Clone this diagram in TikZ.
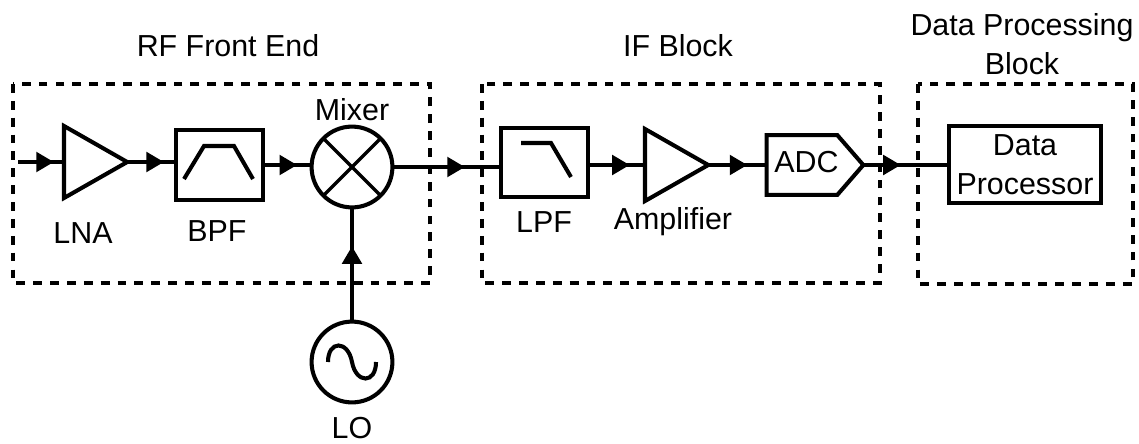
\documentclass[tikz,border=0pt]{standalone}
\usepackage{fontspec}
\setmainfont{Liberation Sans}
\usetikzlibrary{arrows.meta,shapes.geometric,shapes.symbols,decorations.markings}
\tikzset{
	wire/.style={line width=2.3pt},
	midarrow/.style={wire,postaction={decorate},decoration={markings,mark=at position #1 with {\arrow{Triangle[length=10pt,width=11pt]}}}},
	blockbox/.style={line width=1.9pt,dash pattern=on 5pt off 4.6pt},
	filterbox/.style={draw,wire,rectangle,minimum width=50pt,minimum height=39.5pt,outer sep=0pt},
	amp/.style={draw,wire,isosceles triangle,isosceles triangle apex angle=58,isosceles triangle stretches,minimum height=36pt,minimum width=41pt,inner sep=0pt,outer sep=0pt},
	roundel/.style={draw,wire,circle,minimum size=46pt,inner sep=0pt,outer sep=0pt},
	lbl/.style={font=\fontsize{17.3}{22}\selectfont,inner sep=0pt}
}
\begin{document}
\begin{tikzpicture}[x=0.02cm,y=-0.02cm]
			\useasboundingbox (0,0) rectangle (1139,443);
			% dashed blocks
			\draw[blockbox] (13,84) rectangle (430,283);
			\draw[blockbox] (482,84) rectangle (880,283);
			\draw[blockbox] (918,84) rectangle (1133,284);
			\node[lbl] (rftitle) at (228,46) {RF Front End};
			\node[lbl] (iftitle) at (678,46) {IF Block};
			\node[lbl,align=center] (dptitle) at (1022,44) {Data Processing\\Block};
			% RF front end
			\coordinate (rfin) at (18,162);
			\node[amp,anchor=lower side] (lna) at (64,162) {};
			\node[filterbox] (bpf) at (219.5,165) {};
			\node[roundel] (mixer) at (352,167) {};
			\node[roundel] (lo) at (352,362) {};
			\foreach \Ang in {45,135}{
				\draw[line width=2pt] (mixer.\Ang)--(mixer.\Ang+180);}
			\draw[wire,shift={(lo)}] (-24,0) .. controls (-24,-22) and (-4,-22) .. (0,0) .. controls (4,22) and (24,22) .. (24,0);
			\draw[wire] (184,179)--(204,146)--(234,146)--(253,179);
			\node[lbl] (lnalabel) at (83,233) {LNA};
			\node[lbl] (bpflabel) at (217,231) {BPF};
			\node[lbl] (mixerlabel) at (352,110) {Mixer};
			\node[lbl] (lolabel) at (352,428.5) {LO};
			% IF block
			\node[filterbox] (lpf) at (544.5,162.5) {};
			\node[amp,anchor=lower side] (ifamp) at (645,165) {};
			\node[draw,wire,signal,signal to=east,signal pointer angle=98,minimum width=55pt,minimum height=34pt,inner sep=0pt,outer sep=0pt] (adc) at (802,165) {};
			\draw[wire] (521,143)--(551,143)--(571,177);
			\node[lbl] (adclabel) at (806.5,162) {ADC};
			\node[lbl] (lpflabel) at (544,222) {LPF};
			\node[lbl] (amplabel) at (673,222) {Amplifier};
			% data processor
			\node[lbl,draw,wire,rectangle,minimum width=87pt,minimum height=43.5pt,align=center] (dp) at (1025,164.5) {Data\\Processor};
			% connectors
			\draw[midarrow=.78] (rfin)--(lna.lower side|-rfin);
			\draw[midarrow=.76] (lna.apex)--(bpf.west|-lna.apex);
			\draw[midarrow=.70] (bpf.east)--(mixer.west|-bpf.east);
			\draw[midarrow=.67] (mixer.east)--(lpf.west|-mixer.east);
			\draw[midarrow=.73] (lpf.east|-ifamp.lower side)--(ifamp.lower side);
			\draw[midarrow=.67] (ifamp.apex)--(adc.west|-ifamp.apex);
			\draw[midarrow=.45] (adc.east)--(dp.west|-adc.east);
			\draw[midarrow=.66] (lo.north)--(mixer.south);
			\end{tikzpicture}
\end{document}
